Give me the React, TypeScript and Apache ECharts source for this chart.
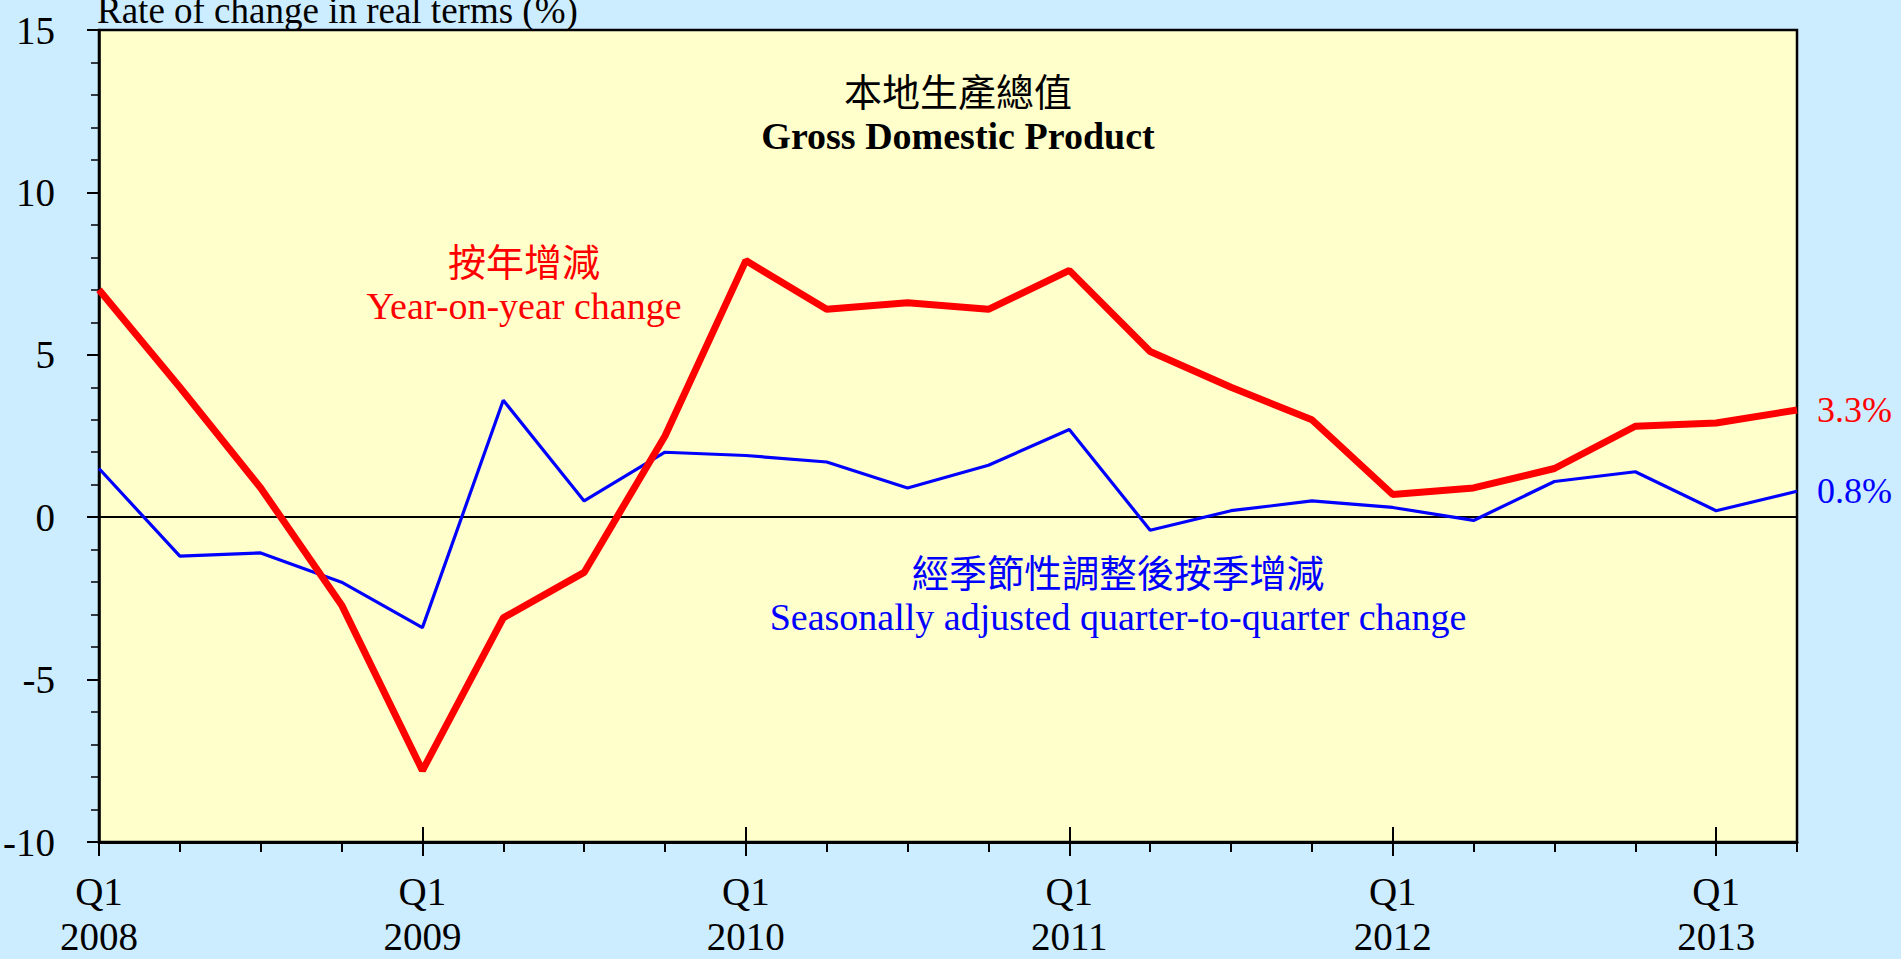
import React, { useEffect, useRef } from 'react';
import * as echarts from 'echarts';

const categories = [
  'Q1\n2008', 'Q2\n2008', 'Q3\n2008', 'Q4\n2008',
  'Q1\n2009', 'Q2\n2009', 'Q3\n2009', 'Q4\n2009',
  'Q1\n2010', 'Q2\n2010', 'Q3\n2010', 'Q4\n2010',
  'Q1\n2011', 'Q2\n2011', 'Q3\n2011', 'Q4\n2011',
  'Q1\n2012', 'Q2\n2012', 'Q3\n2012', 'Q4\n2012',
  'Q1\n2013', 'Q2\n2013',
];

const yoyChange = [7.0, 4.0, 0.9, -2.7, -7.8, -3.1, -1.7, 2.5, 7.9, 6.4, 6.6, 6.4, 7.6, 5.1, 4.0, 3.0, 0.7, 0.9, 1.5, 2.8, 2.9, 3.3];
const qoqChange = [1.5, -1.2, -1.1, -2.0, -3.4, 3.6, 0.5, 2.0, 1.9, 1.7, 0.9, 1.6, 2.7, -0.4, 0.2, 0.5, 0.3, -0.1, 1.1, 1.4, 0.2, 0.8];

const yMin = -10;
const yMax = 15;
const yInterval = 5;

const SERIF = "'Liberation Serif', 'Times New Roman', serif";
const CJK = "'Noto Sans CJK TC', 'Noto Sans CJK SC', sans-serif";
const AXIS_FS = 39;
const TEXT_FS = 38;
const CJK_FS = 37.5;

export default function App() {
  const ref = useRef<HTMLDivElement>(null);
  useEffect(() => {
    document.body.style.margin = '0';
    const chart = echarts.init(ref.current!, null, { renderer: 'svg' });
    const tickAxisBase = {
      type: 'category',
      data: categories,
      boundaryGap: false,
      position: 'bottom',
      axisLine: { show: false, onZero: false },
      axisLabel: { show: false },
      splitLine: { show: false },
    };
    chart.setOption({
      animation: false,
      backgroundColor: '#CCECFF',
      grid: {
        show: true,
        left: 95,
        right: 104,
        top: 30,
        bottom: 114,
        backgroundColor: '#FFFFCC',
        borderColor: '#000',
        borderWidth: 2.5,
        containLabel: false,
      },
      xAxis: [
        {
          type: 'category',
          data: categories,
          boundaryGap: false,
          position: 'bottom',
          axisLine: { onZero: false, lineStyle: { color: '#000', width: 3 } },
          axisTick: { show: true, interval: 0, length: 10, lineStyle: { color: '#000', width: 2 } },
          axisLabel: {
            interval: 3,
            color: '#000',
            fontFamily: SERIF,
            fontSize: AXIS_FS,
            lineHeight: 45,
            margin: 27,
          },
          splitLine: { show: false },
        },
        { ...tickAxisBase, axisTick: { show: true, interval: 3, inside: true, length: 15, lineStyle: { color: '#000', width: 2 } } },
        { ...tickAxisBase, axisTick: { show: true, interval: 3, inside: false, length: 14, lineStyle: { color: '#000', width: 2 } } },
      ],
      yAxis: {
        type: 'value',
        min: yMin,
        max: yMax,
        interval: yInterval,
        axisLine: { show: true, lineStyle: { color: '#000', width: 2.5 } },
        axisTick: { show: true, length: 12, lineStyle: { color: '#000', width: 2 } },
        minorTick: { show: true, splitNumber: 5, length: 8, lineStyle: { color: '#000', width: 1.5 } },
        splitLine: { show: false },
        minorSplitLine: { show: false },
        axisLabel: { color: '#000', fontFamily: SERIF, fontSize: AXIS_FS, margin: 44 },
      },
      series: [
        {
          type: 'line',
          name: 'qoq',
          data: qoqChange,
          symbol: 'none',
          z: 3,
          lineStyle: { color: '#0000FF', width: 3.2 },
          itemStyle: { color: '#0000FF' },
          endLabel: {
            show: true,
            formatter: (p: any) => p.value + '%',
            color: '#0000FF',
            fontFamily: SERIF,
            fontSize: 36,
            distance: 20,
          },
          markLine: {
            silent: true,
            symbol: ['none', 'none'],
            label: { show: false },
            lineStyle: { color: '#000', width: 2, type: 'solid' },
            data: [{ yAxis: 0 }],
            z: 1,
          },
        },
        {
          type: 'line',
          name: 'yoy',
          data: yoyChange,
          symbol: 'none',
          z: 4,
          lineStyle: { color: '#FF0000', width: 7 },
          itemStyle: { color: '#FF0000' },
          endLabel: {
            show: true,
            formatter: (p: any) => p.value + '%',
            color: '#FF0000',
            fontFamily: SERIF,
            fontSize: 36,
            distance: 20,
          },
        },
      ],
      graphic: [
        {
          type: 'text', x: 97, y: 10.5, z: 10,
          style: { text: 'Rate of change in real terms (%)', fill: '#000', fontFamily: SERIF, fontSize: 37, align: 'left', verticalAlign: 'middle' },
        },
        {
          type: 'text', x: 958, y: 89, z: 10,
          style: { text: '本地生產總值', fill: '#000', fontFamily: CJK, fontSize: 38, align: 'center', verticalAlign: 'middle' },
        },
        {
          type: 'text', x: 958, y: 136, z: 10,
          style: { text: 'Gross Domestic Product', fill: '#000', fontFamily: SERIF, fontWeight: 'bold', fontSize: TEXT_FS, align: 'center', verticalAlign: 'middle' },
        },
        {
          type: 'text', x: 524, y: 259, z: 10,
          style: { text: '按年增減', fill: '#FF0000', fontFamily: CJK, fontSize: 38, align: 'center', verticalAlign: 'middle' },
        },
        {
          type: 'text', x: 524, y: 306, z: 10,
          style: { text: 'Year-on-year change', fill: '#FF0000', fontFamily: SERIF, fontSize: TEXT_FS, align: 'center', verticalAlign: 'middle' },
        },
        {
          type: 'text', x: 1118, y: 570, z: 10,
          style: { text: '經季節性調整後按季增減', fill: '#0000FF', fontFamily: CJK, fontSize: CJK_FS, align: 'center', verticalAlign: 'middle' },
        },
        {
          type: 'text', x: 1118, y: 617, z: 10,
          style: { text: 'Seasonally adjusted quarter-to-quarter change', fill: '#0000FF', fontFamily: SERIF, fontSize: TEXT_FS, align: 'center', verticalAlign: 'middle' },
        },
      ],
    });
    return () => chart.dispose();
  }, []);
  return <div ref={ref} style={{ width: 1901, height: 959 }} />;
}
